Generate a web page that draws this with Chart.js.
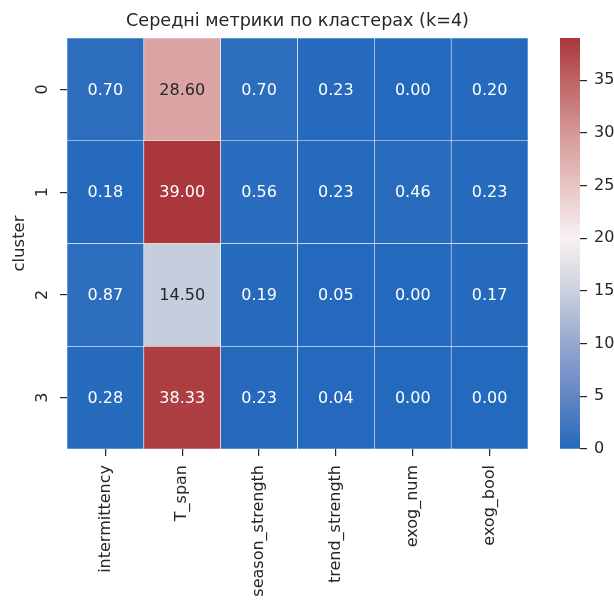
<!DOCTYPE html>
<html>
<head>
<meta charset="utf-8">
<script src="https://cdn.jsdelivr.net/npm/chart.js@4.4.0/dist/chart.umd.min.js"></script>
<style>
  html, body { margin: 0; padding: 0; background: #fff; }
  #wrap { position: relative; width: 614px; height: 601px; }
  #wrap canvas { position: absolute; left: 0; top: 0; }
</style>
</head>
<body>
<div id="wrap">
  <canvas id="heat" width="614" height="601"></canvas>
  <canvas id="cbar" width="614" height="601"></canvas>
</div>
<script>
const metrics = ['intermittency', 'T_span', 'season_strength', 'trend_strength', 'exog_num', 'exog_bool'];
const clusters = ['0', '1', '2', '3'];
const cluster0 = [0.70, 28.60, 0.70, 0.23, 0.00, 0.20];
const cluster1 = [0.18, 39.00, 0.56, 0.23, 0.46, 0.23];
const cluster2 = [0.87, 14.50, 0.19, 0.05, 0.00, 0.17];
const cluster3 = [0.28, 38.33, 0.23, 0.04, 0.00, 0.00];
const rows = [cluster0, cluster1, cluster2, cluster3];
const cbTicks = [0, 5, 10, 15, 20, 25, 30, 35];
const vmin = 0, vmax = 39;
const titleText = 'Середні метрики по кластерах (k=4)';

const FONT = 'DejaVu Sans';
const INK = '#262626';

// rough vlag colormap
const cmap = [
    [0.000, [35, 105, 189]],
    [0.128, [98, 134, 196]],
    [0.256, [150, 167, 206]],
    [0.385, [203, 209, 222]],
    [0.513, [247, 242, 243]],
    [0.641, [232, 196, 196]],
    [0.769, [212, 152, 150]],
    [0.897, [190, 99, 101]],
    [1.000, [169, 55, 59]]
];

function rgbAt(t) {
    t = Math.max(0, Math.min(1, t));
    for (let i = 1; i < cmap.length; i++) {
        if (t <= cmap[i][0]) {
            const [t0, c0] = cmap[i - 1], [t1, c1] = cmap[i];
            const f = (t - t0) / (t1 - t0);
            return c0.map((c, k) => Math.round(c + (c1[k] - c) * f));
        }
    }
    return cmap[cmap.length - 1][1];
}
const colorFor = v => `rgb(${rgbAt((v - vmin) / (vmax - vmin)).join(',')})`;

function textColorFor(v) {
    const lum = rgbAt((v - vmin) / (vmax - vmin)).map(c => {
        c /= 255;
        return c <= 0.03928 ? c / 12.92 : Math.pow((c + 0.055) / 1.055, 2.4);
    });
    const L = 0.2126 * lum[0] + 0.7152 * lum[1] + 0.0722 * lum[2];
    return L > 0.408 ? INK : '#ffffff';
}

const annotate = {
    id: 'annotate',
    afterDatasetsDraw(chart) {
        const ctx = chart.ctx;
        ctx.save();
        ctx.font = `16px "${FONT}"`;
        ctx.textAlign = 'center';
        ctx.textBaseline = 'middle';
        chart.data.datasets.forEach((ds, di) => {
            chart.getDatasetMeta(di).data.forEach((bar, i) => {
                const v = ds.data[i].v;
                ctx.fillStyle = textColorFor(v);
                ctx.fillText(v.toFixed(2), bar.x, (bar.y + bar.base) / 2 + 1);
            });
        });
        // title centred over the heatmap
        const a = chart.chartArea;
        ctx.fillStyle = INK;
        ctx.font = `17.6px "${FONT}"`;
        ctx.fillText(titleText, (a.left + a.right) / 2, 21);
        ctx.restore();
    }
};

const tickGrid = { display: true, drawOnChartArea: false, offset: false, tickLength: 7, color: INK, lineWidth: 1.2 };

new Chart(document.getElementById('heat'), {
    type: 'bar',
    data: {
        labels: metrics,
        datasets: rows.map((vals, r) => ({
            data: vals.map((v, c) => ({ x: metrics[c], y: [r, r + 1], v: v })),
            backgroundColor: vals.map(colorFor),
            borderColor: 'rgba(255,255,255,0.9)',
            borderWidth: 0.6,
            borderSkipped: false,
            barPercentage: 1,
            categoryPercentage: 1,
            grouped: false
        }))
    },
    options: {
        responsive: false,
        animation: false,
        devicePixelRatio: 1,
        layout: { padding: { left: 0, right: 86, top: 38, bottom: 0 } },
        plugins: {
            legend: { display: false },
            tooltip: { enabled: false },
            title: { display: false }
        },
        scales: {
            x: {
                type: 'category',
                offset: true,
                grid: tickGrid,
                border: { display: false },
                ticks: { color: INK, font: { family: FONT, size: 16 }, minRotation: 90, maxRotation: 90, padding: 9, autoSkip: false },
                afterFit(s) { s.height = 152; }
            },
            y: {
                type: 'linear',
                min: 0,
                max: 4,
                reverse: true,
                grid: tickGrid,
                border: { display: false },
                afterBuildTicks(s) { s.ticks = clusters.map((c, i) => ({ value: i + 0.5 })); },
                ticks: {
                    color: INK,
                    font: { family: FONT, size: 16 },
                    minRotation: 90,
                    maxRotation: 90,
                    crossAlign: 'center',
                    padding: 12,
                    callback: (v, i) => clusters[i]
                },
                title: { display: true, text: 'cluster', color: INK, font: { family: FONT, size: 16.5 }, padding: { top: 10 } },
                afterFit(s) { s.width = 67; }
            }
        }
    },
    plugins: [annotate]
});

new Chart(document.getElementById('cbar'), {
    type: 'bar',
    data: {
        labels: ['scale'],
        datasets: [{
            data: [[vmin, vmax]],
            backgroundColor(ctx) {
                const chart = ctx.chart;
                const y = chart.scales.y;
                if (!y || !chart.chartArea) return colorFor(vmin);
                const g = chart.ctx.createLinearGradient(0, y.getPixelForValue(vmin), 0, y.getPixelForValue(vmax));
                cmap.forEach(([t, c]) => g.addColorStop(t, `rgb(${c.join(',')})`));
                return g;
            },
            borderWidth: 0,
            barPercentage: 1,
            categoryPercentage: 1
        }]
    },
    options: {
        responsive: false,
        animation: false,
        devicePixelRatio: 1,
        layout: { padding: { left: 560, right: 0, top: 38, bottom: 152 } },
        plugins: { legend: { display: false }, tooltip: { enabled: false } },
        scales: {
            x: { display: false },
            y: {
                position: 'right',
                min: vmin,
                max: vmax,
                grid: { display: true, drawOnChartArea: false, tickLength: 7, color: INK, lineWidth: 1.2 },
                border: { display: false },
                afterBuildTicks(s) { s.ticks = cbTicks.map(v => ({ value: v })); },
                ticks: { color: INK, font: { family: FONT, size: 16 }, padding: 7 },
                afterFit(s) { s.width = 34; }
            }
        }
    }
});
</script>
</body>
</html>
